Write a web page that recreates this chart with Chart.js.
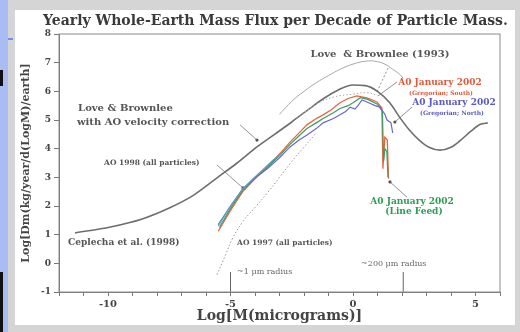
<!DOCTYPE html>
<html><head><meta charset="utf-8">
<script src="https://cdn.jsdelivr.net/npm/chart.js@4.4.1/dist/chart.umd.min.js"></script>
<style>
html,body{margin:0;padding:0;background:#d5d5d5;width:520px;height:332px;overflow:hidden;position:relative;}
#strip{position:absolute;left:0;top:0;width:8px;height:332px;background:#a9bcf4;}
#tick{position:absolute;left:8px;top:38px;width:5px;height:2px;background:#6f8ee8;}
.blk{position:absolute;left:0;width:3px;background:#111;}
#panel{position:absolute;left:15px;top:10px;width:500px;height:315px;background:#fff;}
canvas{filter:blur(0.45px);}
</style></head>
<body>
<div id="strip"></div><div id="tick"></div>
<div class="blk" style="top:70px;height:16px"></div>
<div class="blk" style="top:272px;height:60px"></div>
<div id="panel"><canvas id="c" width="500" height="315"></canvas></div>
<script>
// ---- data ----
const xTicks = [-10, -5, 0, 5];
const yTicks = [-1, 0, 1, 2, 3, 4, 5, 6, 7, 8];

// Ceplecha et al. (1998) + Love & Brownlee with AO velocity correction
const mainX = [-11.35,-9.9,-8.6,-7.5,-6.5,-5.55,-4.73,-3.92,-3.2,-2.5,-1.8,-1.2,-0.6,0,0.5,1.0,1.5,1.9,2.3,2.7,3.1,3.55,4.0,4.4,4.8,5.2,5.5];
const mainY = [1.06,1.27,1.55,1.93,2.38,2.98,3.5,4.06,4.5,4.93,5.38,5.75,6.05,6.22,6.2,6.0,5.6,5.1,4.65,4.3,4.05,3.95,4.05,4.3,4.6,4.85,4.9];

// Love & Brownlee (1993)
const lb93X = [-3.0,-2.5,-2.0,-1.5,-1.0,-0.5,0,0.5,0.9,1.3,1.6,1.9,2.05];
const lb93Y = [5.2,5.65,6.0,6.3,6.55,6.78,6.95,7.05,7.05,6.95,6.78,6.6,6.45];

// AO 1997 (all particles), dotted
const ao97X = [-5.55,-5.2,-4.9,-4.5,-4.0,-3.5,-3.0,-2.5,-2.0,-1.5];
const ao97Y = [-0.4,0.3,0.9,1.45,1.95,2.45,3.0,3.55,4.05,4.55];
// upper dotted curve near the peak
const dotUX = [-2.3,-1.5,-0.8,0,0.6,1.0];
const dotUY = [5.05,5.55,5.8,5.9,5.95,5.85];

// AO 1998 (all particles)
const ao98X = [-5.5,-5.0,-4.5,-4.08,-3.7,-3.27,-2.9];
const ao98Y = [1.3,2.0,2.6,2.95,3.25,3.6,3.85];

// A0 January 2002 (Gregorian; South)
const southX = [-5.5,-5.0,-4.5,-4.08,-3.7,-3.27,-2.9,-2.57,-2.2,-1.88,-1.5,-1.22,-0.9,-0.53,-0.2,0.16,0.57,0.98,1.18,1.22,1.3,1.4,1.45];
const southY = [1.12,1.85,2.5,2.88,3.22,3.57,3.9,4.23,4.55,4.83,5.05,5.18,5.35,5.6,5.75,5.84,5.77,5.63,5.42,3.3,4.4,4.3,2.95];

// A0 January 2002 (Gregorian; North)
const northX = [-5.5,-5.0,-4.5,-4.08,-3.5,-3.0,-2.57,-2.2,-1.88,-1.5,-1.22,-0.8,-0.53,-0.3,-0.12,0.08,0.2,0.37,0.57,0.9,1.1,1.3,1.39,1.55,1.62];
const northY = [1.35,2.0,2.6,2.92,3.3,3.68,4.06,4.3,4.48,4.7,4.9,5.05,5.18,5.3,5.45,5.38,5.5,5.7,5.63,5.5,5.45,5.2,5.0,4.9,4.55];

// A0 January 2002 (Line Feed)
const feedX = [-5.45,-5.0,-4.5,-4.08,-3.5,-3.0,-2.57,-2.2,-1.88,-1.5,-1.22,-0.8,-0.53,-0.2,0,0.3,0.6,1.0,1.2,1.25,1.3,1.38,1.43];
const feedY = [1.25,1.92,2.55,2.9,3.35,3.75,4.15,4.45,4.7,4.9,5.05,5.25,5.4,5.5,5.6,5.78,5.72,5.55,5.3,3.55,4.0,3.9,3.0];

// leader lines (start, end) in data units
const leaders = [
  {x:[-4.61,-3.92], y:[4.83,4.30], arrow:true},
  {x:[-5.55,-4.49], y:[3.43,2.63], arrow:true},
  {x:[2.41,1.71],  y:[5.45,4.93], arrow:true},
  {x:[2.2,1.51],   y:[2.31,2.84], arrow:true},
  {x:[1.8,1.02],   y:[6.33,5.84], arrow:false},
  {x:[1.43,0.98],  y:[6.81,5.98], arrow:false, dash:true}
];
// radius markers
const markX = [-5, 2.05];
const markTop = -0.3;

// annotation texts
const notes = [
  {t:'Love  & Brownlee (1993)', x:1.1, y:7.30, a:'center', f:'bold 10px "DejaVu Serif"', c:'#555'},
  {t:'A0 January 2002', x:3.55, y:6.29, a:'center', f:'bold 9px "DejaVu Serif"', c:'#e2593a'},
  {t:'(Gregorian; South)', x:3.59, y:5.94, a:'center', f:'bold 6px "DejaVu Serif"', c:'#e2593a'},
  {t:'A0 January 2002', x:4.12, y:5.59, a:'center', f:'bold 9px "DejaVu Serif"', c:'#5a5ac0'},
  {t:'(Gregorian; North)', x:4.04, y:5.24, a:'center', f:'bold 6px "DejaVu Serif"', c:'#5a5ac0'},
  {t:'A0 January 2002', x:2.41, y:2.14, a:'center', f:'bold 9px "DejaVu Serif"', c:'#2f9a58'},
  {t:'(Line Feed)', x:2.49, y:1.79, a:'center', f:'bold 9px "DejaVu Serif"', c:'#2f9a58'},
  {t:'Love & Brownlee', x:-11.22, y:5.42, a:'left', f:'bold 10px "DejaVu Serif"', c:'#555'},
  {t:'with AO velocity correction', x:-11.27, y:4.93, a:'left', f:'bold 10px "DejaVu Serif"', c:'#555'},
  {t:'AO 1998 (all particles)', x:-10.16, y:3.50, a:'left', f:'bold 7.5px "DejaVu Serif"', c:'#555'},
  {t:'Ceplecha et al. (1998)', x:-11.63, y:0.71, a:'left', f:'bold 9px "DejaVu Serif"', c:'#555'},
  {t:'AO 1997 (all particles)', x:-4.73, y:0.71, a:'left', f:'bold 7.5px "DejaVu Serif"', c:'#555'},
  {t:'~1 μm radius', x:-4.73, y:-0.30, a:'left', f:'8px "DejaVu Serif"', c:'#666'},
  {t:'~200 μm radius', x:0.33, y:-0.02, a:'left', f:'8px "DejaVu Serif"', c:'#666'}
];
const titleText = 'Yearly Whole-Earth Mass Flux per Decade of Particle Mass.';

// ---- build chart ----
const pts = (xs, ys) => xs.map((x, i) => ({x, y: ys[i]}));
const line = (data, color, width, extra) => Object.assign({
  data, borderColor: color, borderWidth: width, pointRadius: 0, fill: false, tension: 0
}, extra || {});

const datasets = [
  line(pts(lb93X, lb93Y), '#a8a8a8', 1, {tension: 0.4}),
  line(pts(ao97X, ao97Y), '#999', 1, {borderDash: [1.5, 2], tension: 0.4}),
  line(pts(dotUX, dotUY), '#aaa', 1, {borderDash: [1.5, 2], tension: 0.4}),
  line(pts(ao98X, ao98Y), '#5fa3b5', 1.2),
  line(pts(northX, northY), '#6868cc', 1.2),
  line(pts(feedX, feedY), '#3f9c62', 1.2),
  line(pts(southX, southY), '#e8653f', 1.3),
  line(pts(mainX, mainY), '#6e6e6e', 1.6, {cubicInterpolationMode: 'monotone'})
];
leaders.forEach(l => {
  datasets.push(line(pts(l.x, l.y), '#777', 0.8, {
    borderDash: l.dash ? [2, 2] : [],
    pointRadius: [0, l.arrow ? 1.6 : 0], pointBackgroundColor: '#555', pointBorderWidth: 0
  }));
});
markX.forEach(x => {
  datasets.push(line(pts([x, x], [-1, markTop]), '#666', 1));
});

const serif = '"DejaVu Serif", "Liberation Serif", serif';

const deco = {
  id: 'deco',
  afterDatasetsDraw(chart) {
    const {ctx, chartArea: a, scales: {x, y}} = chart;
    ctx.save();
    ctx.strokeStyle = '#8a8a8a';
    ctx.lineWidth = 1;
    ctx.strokeRect(a.left, a.top, a.right - a.left, a.bottom - a.top);
    ctx.textBaseline = 'middle';
    notes.forEach(n => {
      ctx.font = n.f;
      ctx.fillStyle = n.c;
      ctx.textAlign = n.a;
      ctx.fillText(n.t, x.getPixelForValue(n.x), y.getPixelForValue(n.y));
    });
    ctx.font = 'bold 14px ' + serif;
    ctx.fillStyle = '#3a3a3a';
    ctx.textAlign = 'left';
    ctx.fillText(titleText, 28, 11);
    ctx.restore();
  }
};

new Chart(document.getElementById('c'), {
  type: 'line',
  data: {datasets},
  options: {
    responsive: false,
    animation: false,
    layout: {padding: {top: 24, right: 15, left: 0, bottom: 0}},
    plugins: {legend: {display: false}, tooltip: {enabled: false}, title: {display: false}},
    scales: {
      x: {
        type: 'linear', min: -12, max: 6,
        afterFit: s => { s.height = 33; },
        ticks: {
          stepSize: 1, autoSkip: false, maxRotation: 0, padding: 2,
          color: '#444', font: {family: serif, size: 10, weight: 'bold'},
          callback: v => xTicks.includes(v) ? String(v) : ''
        },
        grid: {drawOnChartArea: false, drawTicks: true, tickLength: 4, color: '#777'},
        border: {display: true, color: '#777'},
        title: {display: true, text: 'Log[M(micrograms)]', color: '#444',
          font: {family: serif, size: 14, weight: 'bold'}, padding: {top: 0, bottom: 0}}
      },
      y: {
        type: 'linear', min: -1, max: 8,
        afterFit: s => { s.width = 44; },
        ticks: {
          stepSize: 1, autoSkip: false, padding: 3,
          color: '#444', font: {family: serif, size: 9, weight: 'bold'},
          callback: v => yTicks.includes(v) ? String(v) : ''
        },
        grid: {drawOnChartArea: false, drawTicks: true, tickLength: 5, color: '#777'},
        border: {display: true, color: '#777'},
        title: {display: true, text: 'Log[Dm(kg/year/d(LogM)/earth]', color: '#444',
          font: {family: serif, size: 11, weight: 'bold'}, padding: {top: 5, bottom: 0}}
      }
    }
  },
  plugins: [deco]
});
</script>
</body></html>
